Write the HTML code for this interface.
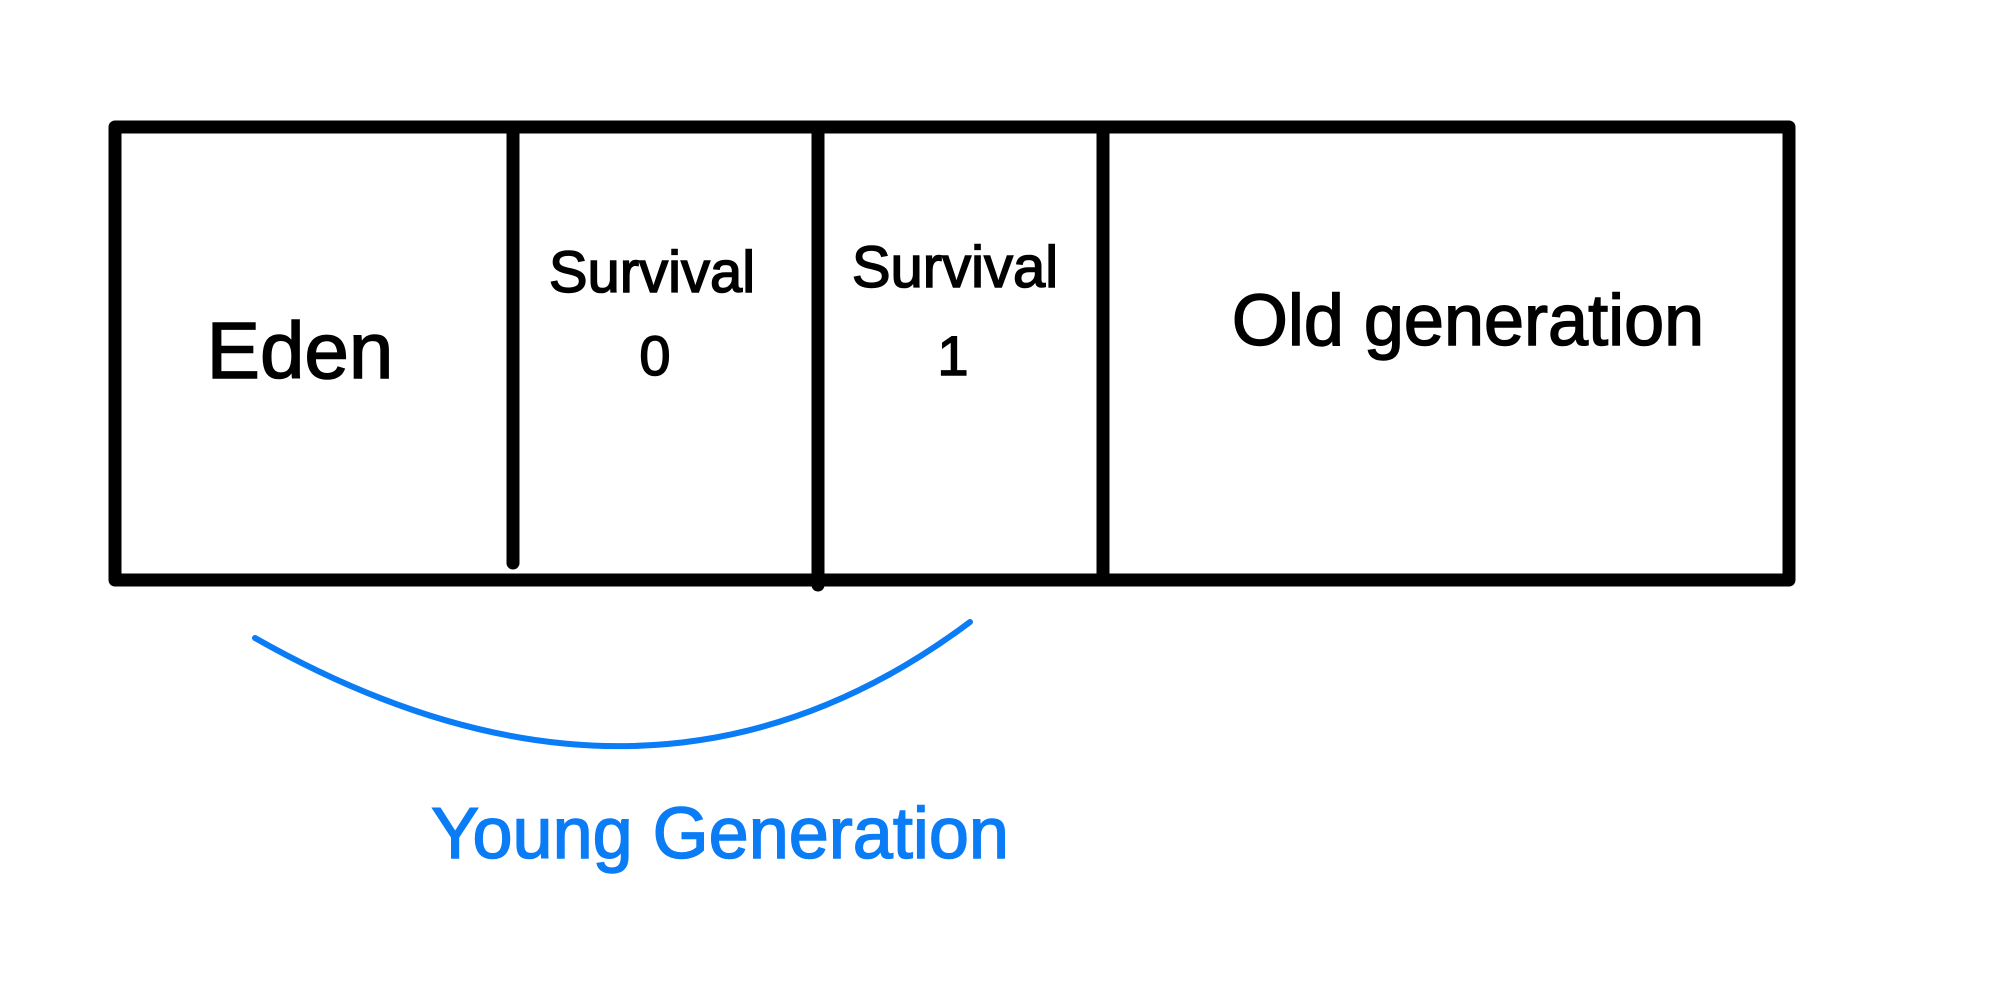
<!DOCTYPE html>
<html><head><meta charset="utf-8"><style>
html,body{margin:0;padding:0;background:#fff;}
</style></head><body>
<svg width="1997" height="1000" viewBox="0 0 1997 1000" xmlns="http://www.w3.org/2000/svg">
<rect width="1997" height="1000" fill="#fff"/>
<g stroke="#000" stroke-width="13" stroke-linecap="round" stroke-linejoin="round" fill="none">
<rect x="115" y="127" width="1674" height="453"/>
<line x1="513" y1="127" x2="513" y2="563"/>
<line x1="818" y1="127" x2="818" y2="585"/>
<line x1="1103" y1="127" x2="1103" y2="580"/>
</g>
<path d="M255 638 Q650 862 970 622" stroke="#0a7cf5" stroke-width="6" fill="none" stroke-linecap="round"/>
<g font-family="Liberation Sans, sans-serif" fill="#000" text-anchor="middle" stroke="#000" stroke-width="1.5">
<text x="300" y="378" font-size="80">Eden</text>
<text x="652" y="292" font-size="58">Survival</text>
<text x="655" y="375" font-size="56">0</text>
<text x="955" y="287" font-size="58">Survival</text>
<text x="953" y="375" font-size="56">1</text>
<text x="1468" y="345" font-size="72">Old generation</text>
<text x="720" y="858" font-size="72" fill="#0a7cf5" stroke="#0a7cf5">Young Generation</text>
</g>
</svg>
</body></html>
